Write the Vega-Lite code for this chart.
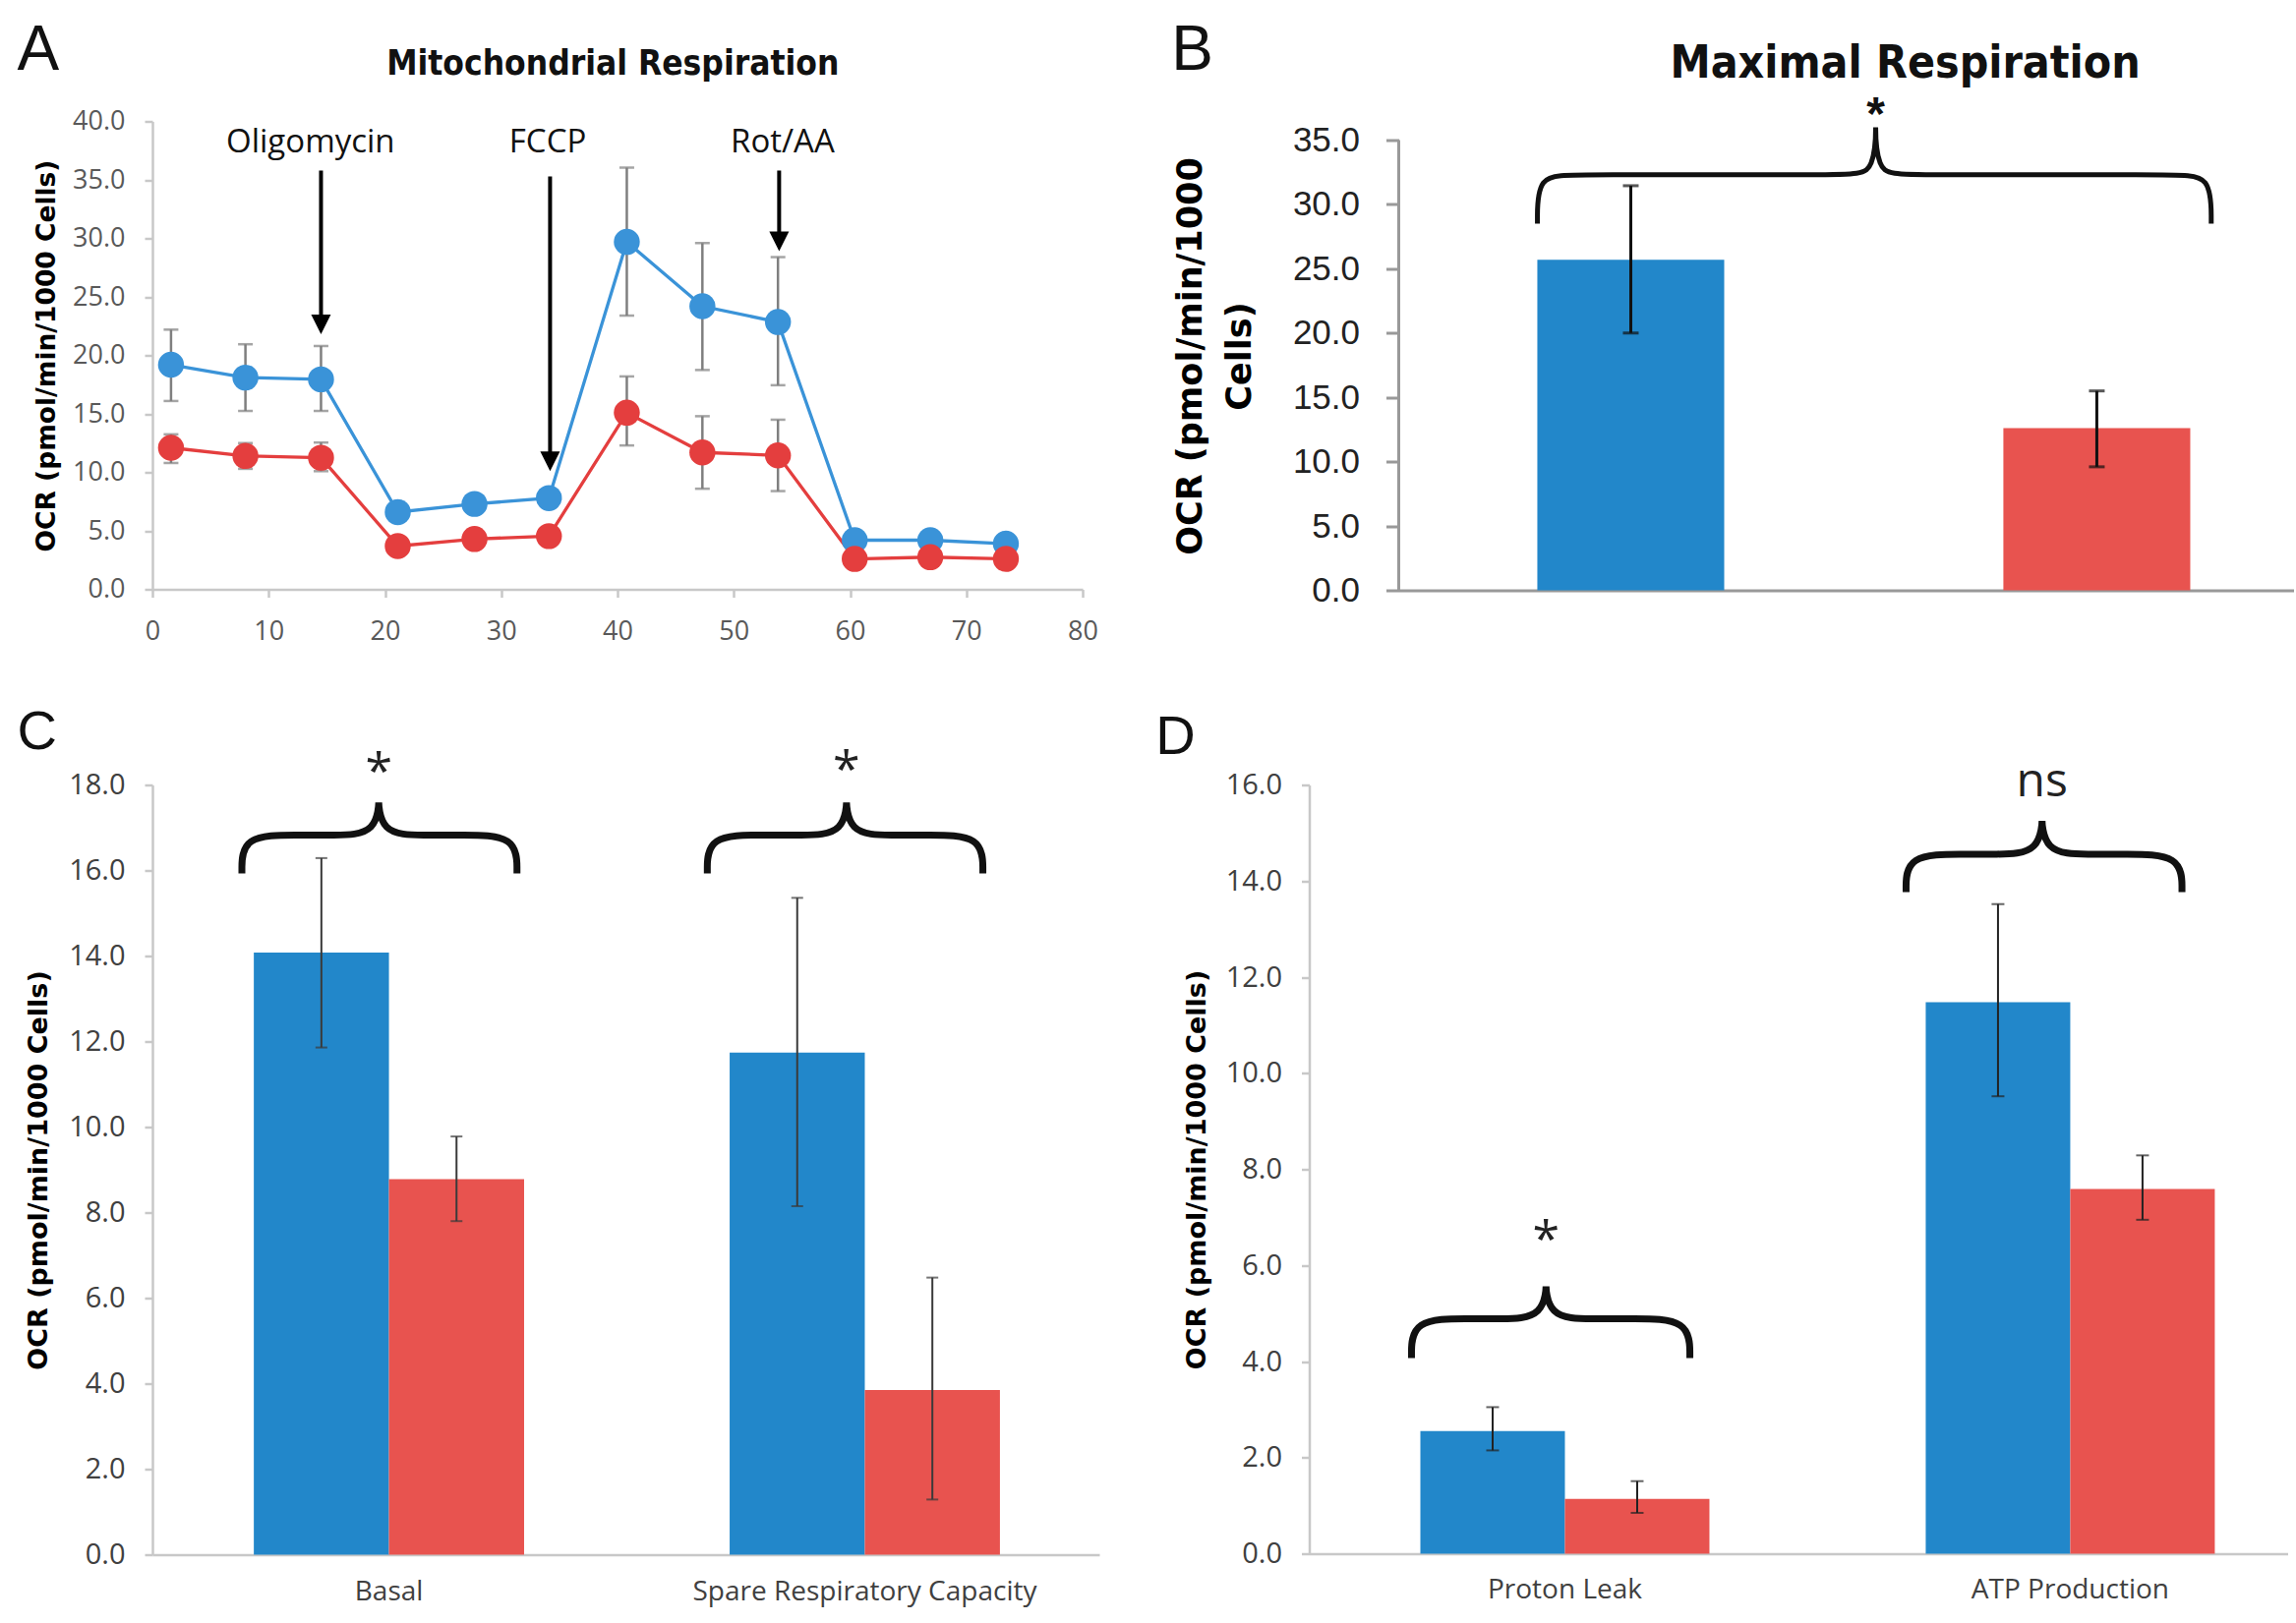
{
  "$schema": "https://vega.github.io/schema/vega-lite/v6.json",
  "background": "white",
  "padding": {"left": 17, "top": 19.5, "right": 0, "bottom": 10},
  "config": {
    "view": {"stroke": null},
    "axis": {"grid": false}
  },
  "datasets": {
    "a": [
      {"t": 1.6, "g": "g1", "v": 19.2, "lo": 16.1, "hi": 22.2},
      {"t": 8.0, "g": "g1", "v": 18.1, "lo": 15.25, "hi": 20.95},
      {"t": 14.5, "g": "g1", "v": 17.95, "lo": 15.25, "hi": 20.8},
      {"t": 21.1, "g": "g1", "v": 6.6, "lo": 6.0, "hi": 7.2},
      {"t": 27.7, "g": "g1", "v": 7.3, "lo": 6.7, "hi": 7.9},
      {"t": 34.1, "g": "g1", "v": 7.8, "lo": 7.2, "hi": 8.4},
      {"t": 40.8, "g": "g1", "v": 29.7, "lo": 23.4, "hi": 36.05},
      {"t": 47.3, "g": "g1", "v": 24.2, "lo": 18.75, "hi": 29.6},
      {"t": 53.8, "g": "g1", "v": 22.85, "lo": 17.45, "hi": 28.4},
      {"t": 60.4, "g": "g1", "v": 4.2, "lo": 3.8, "hi": 4.6},
      {"t": 66.9, "g": "g1", "v": 4.2, "lo": 3.8, "hi": 4.6},
      {"t": 73.4, "g": "g1", "v": 3.9, "lo": 3.5, "hi": 4.3},
      {"t": 1.6, "g": "g2", "v": 12.1, "lo": 10.8, "hi": 13.25},
      {"t": 8.0, "g": "g2", "v": 11.4, "lo": 10.3, "hi": 12.5},
      {"t": 14.5, "g": "g2", "v": 11.25, "lo": 10.1, "hi": 12.55},
      {"t": 21.1, "g": "g2", "v": 3.7, "lo": 3.3, "hi": 4.1},
      {"t": 27.7, "g": "g2", "v": 4.3, "lo": 3.9, "hi": 4.7},
      {"t": 34.1, "g": "g2", "v": 4.55, "lo": 4.15, "hi": 4.95},
      {"t": 40.8, "g": "g2", "v": 15.1, "lo": 12.3, "hi": 18.2},
      {"t": 47.3, "g": "g2", "v": 11.7, "lo": 8.6, "hi": 14.8},
      {"t": 53.8, "g": "g2", "v": 11.45, "lo": 8.4, "hi": 14.5},
      {"t": 60.4, "g": "g2", "v": 2.6, "lo": 2.3, "hi": 2.9},
      {"t": 66.9, "g": "g2", "v": 2.75, "lo": 2.45, "hi": 3.05},
      {"t": 73.4, "g": "g2", "v": 2.6, "lo": 2.3, "hi": 2.9}
    ],
    "arrows": [
      {"x": 14.5, "top": 35.8, "tip": 21.8, "label": "Oligomycin", "lx": 13.6, "ly": 38.2},
      {"x": 34.2, "top": 35.3, "tip": 10.1, "label": "FCCP", "lx": 34.0, "ly": 38.2},
      {"x": 53.9, "top": 35.8, "tip": 28.9, "label": "Rot/AA", "lx": 54.2, "ly": 38.2}
    ],
    "b": [
      {"g": "g1", "v": 25.7, "lo": 20.0, "hi": 31.45},
      {"g": "g2", "v": 12.6, "lo": 9.6, "hi": 15.5}
    ],
    "c": [
      {"cat": "Basal", "g": "g1", "v": 14.08, "lo": 11.86, "hi": 16.29},
      {"cat": "Basal", "g": "g2", "v": 8.78, "lo": 7.8, "hi": 9.78},
      {"cat": "Spare Respiratory Capacity", "g": "g1", "v": 11.74, "lo": 8.15, "hi": 15.36},
      {"cat": "Spare Respiratory Capacity", "g": "g2", "v": 3.85, "lo": 1.29, "hi": 6.48}
    ],
    "d": [
      {"cat": "Proton Leak", "g": "g1", "v": 2.55, "lo": 2.15, "hi": 3.05},
      {"cat": "Proton Leak", "g": "g2", "v": 1.14, "lo": 0.85, "hi": 1.51},
      {"cat": "ATP Production", "g": "g1", "v": 11.48, "lo": 9.52, "hi": 13.52},
      {"cat": "ATP Production", "g": "g2", "v": 7.59, "lo": 6.95, "hi": 8.29}
    ],
    "braceB": [
      {"id": 1, "i": 0, "bx": 15.5, "by": 28.5},
      {"id": 1, "i": 1, "bx": 15.5, "by": 32.3},
      {"id": 1, "i": 2, "bx": 19.5, "by": 32.3},
      {"id": 1, "i": 3, "bx": 50.3, "by": 32.3},
      {"id": 1, "i": 4, "bx": 53.3, "by": 32.3},
      {"id": 1, "i": 5, "bx": 53.3, "by": 37.85},
      {"id": 1, "i": 6, "bx": 53.3, "by": 32.3},
      {"id": 1, "i": 7, "bx": 56.3, "by": 32.3},
      {"id": 1, "i": 8, "bx": 86.8, "by": 32.3},
      {"id": 1, "i": 9, "bx": 90.8, "by": 32.3},
      {"id": 1, "i": 10, "bx": 90.8, "by": 28.5}
    ],
    "braceC": [
      {"id": 1, "i": 0, "bx": 9.45, "by": 15.93},
      {"id": 1, "i": 1, "bx": 9.45, "by": 16.83},
      {"id": 1, "i": 2, "bx": 15.45, "by": 16.83},
      {"id": 1, "i": 3, "bx": 18.9, "by": 16.83},
      {"id": 1, "i": 4, "bx": 23.9, "by": 16.83},
      {"id": 1, "i": 5, "bx": 23.9, "by": 17.97},
      {"id": 1, "i": 6, "bx": 23.9, "by": 16.83},
      {"id": 1, "i": 7, "bx": 28.9, "by": 16.83},
      {"id": 1, "i": 8, "bx": 32.5, "by": 16.83},
      {"id": 1, "i": 9, "bx": 38.5, "by": 16.83},
      {"id": 1, "i": 10, "bx": 38.5, "by": 15.93},
      {"id": 2, "i": 0, "bx": 58.6, "by": 15.93},
      {"id": 2, "i": 1, "bx": 58.6, "by": 16.83},
      {"id": 2, "i": 2, "bx": 64.6, "by": 16.83},
      {"id": 2, "i": 3, "bx": 68.3, "by": 16.83},
      {"id": 2, "i": 4, "bx": 73.3, "by": 16.83},
      {"id": 2, "i": 5, "bx": 73.3, "by": 17.97},
      {"id": 2, "i": 6, "bx": 73.3, "by": 16.83},
      {"id": 2, "i": 7, "bx": 78.3, "by": 16.83},
      {"id": 2, "i": 8, "bx": 81.7, "by": 16.83},
      {"id": 2, "i": 9, "bx": 87.7, "by": 16.83},
      {"id": 2, "i": 10, "bx": 87.7, "by": 15.93}
    ],
    "braceD": [
      {"id": 1, "i": 0, "bx": 10.45, "by": 4.07},
      {"id": 1, "i": 1, "bx": 10.45, "by": 4.89},
      {"id": 1, "i": 2, "bx": 16.45, "by": 4.89},
      {"id": 1, "i": 3, "bx": 19.2, "by": 4.89},
      {"id": 1, "i": 4, "bx": 24.2, "by": 4.89},
      {"id": 1, "i": 5, "bx": 24.2, "by": 5.9},
      {"id": 1, "i": 6, "bx": 24.2, "by": 4.89},
      {"id": 1, "i": 7, "bx": 29.2, "by": 4.89},
      {"id": 1, "i": 8, "bx": 32.9, "by": 4.89},
      {"id": 1, "i": 9, "bx": 38.9, "by": 4.89},
      {"id": 1, "i": 10, "bx": 38.9, "by": 4.07},
      {"id": 2, "i": 0, "bx": 61.0, "by": 13.77},
      {"id": 2, "i": 1, "bx": 61.0, "by": 14.56},
      {"id": 2, "i": 2, "bx": 67.0, "by": 14.56},
      {"id": 2, "i": 3, "bx": 69.9, "by": 14.56},
      {"id": 2, "i": 4, "bx": 74.9, "by": 14.56},
      {"id": 2, "i": 5, "bx": 74.9, "by": 15.6},
      {"id": 2, "i": 6, "bx": 74.9, "by": 14.56},
      {"id": 2, "i": 7, "bx": 79.9, "by": 14.56},
      {"id": 2, "i": 8, "bx": 83.2, "by": 14.56},
      {"id": 2, "i": 9, "bx": 89.2, "by": 14.56},
      {"id": 2, "i": 10, "bx": 89.2, "by": 13.77}
    ]
  },
  "spacing": 61,
  "resolve": {"scale": {"xOffset": "independent", "x": "independent", "y": "independent", "color": "independent"}},
  "vconcat": [
    {
      "spacing": 73.5,
      "resolve": {"scale": {"xOffset": "independent", "x": "independent", "y": "independent", "color": "independent"}},
      "hconcat": [
        {
          "width": 946,
          "height": 476,
          "layer": [
            {
              "data": {"name": "a"},
              "mark": {"type": "rule", "color": "#7f7f7f", "strokeWidth": 2.5},
              "encoding": {
                "x": {"field": "t", "type": "quantitative", "scale": {"domain": [0, 80], "nice": false},
                  "axis": {"values": [0, 10, 20, 30, 40, 50, 60, 70, 80], "title": null, "labelFont": "Open Sans", "labelFontSize": 27, "labelColor": "#595959", "tickSize": 8, "tickColor": "#c8c8c8", "tickWidth": 2.5, "domainColor": "#c8c8c8", "domainWidth": 2.5, "labelPadding": 22, "labelFlush": false}},
                "y": {"field": "lo", "type": "quantitative", "scale": {"domain": [0, 40], "nice": false},
                  "axis": {"values": [0, 5, 10, 15, 20, 25, 30, 35, 40], "format": ".1f", "title": "OCR (pmol/min/1000 Cells)", "titleFont": "DejaVu Sans", "titleFontWeight": "bold", "titleFontSize": 26.5, "titleColor": "#000", "titlePadding": 12, "labelFont": "Open Sans", "labelFontSize": 27, "labelColor": "#595959", "tickSize": 8, "tickColor": "#c8c8c8", "tickWidth": 2.5, "domainColor": "#c8c8c8", "domainWidth": 2.5, "labelPadding": 20}},
                "y2": {"field": "hi"}
              }
            },
            {
              "data": {"name": "a"},
              "mark": {"type": "tick", "orient": "horizontal", "color": "#7f7f7f", "thickness": 2.5, "size": 15},
              "encoding": {
                "x": {"field": "t", "type": "quantitative", "scale": {"domain": [0, 80], "nice": false}},
                "y": {"field": "hi", "type": "quantitative", "scale": {"domain": [0, 40], "nice": false}}
              }
            },
            {
              "data": {"name": "a"},
              "mark": {"type": "tick", "orient": "horizontal", "color": "#7f7f7f", "thickness": 2.5, "size": 15},
              "encoding": {
                "x": {"field": "t", "type": "quantitative", "scale": {"domain": [0, 80], "nice": false}},
                "y": {"field": "lo", "type": "quantitative", "scale": {"domain": [0, 40], "nice": false}}
              }
            },
            {
              "data": {"name": "a"},
              "mark": {"type": "line", "strokeWidth": 3.3},
              "encoding": {
                "x": {"field": "t", "type": "quantitative", "scale": {"domain": [0, 80], "nice": false}},
                "y": {"field": "v", "type": "quantitative", "scale": {"domain": [0, 40], "nice": false}},
                "color": {"field": "g", "type": "nominal", "scale": {"domain": ["g1", "g2"], "range": ["#3a93d8", "#e43e3e"]}, "legend": null}
              }
            },
            {
              "data": {"name": "a"},
              "mark": {"type": "circle", "size": 700, "opacity": 1},
              "encoding": {
                "x": {"field": "t", "type": "quantitative", "scale": {"domain": [0, 80], "nice": false}},
                "y": {"field": "v", "type": "quantitative", "scale": {"domain": [0, 40], "nice": false}},
                "color": {"field": "g", "type": "nominal", "scale": {"domain": ["g1", "g2"], "range": ["#3a93d8", "#e43e3e"]}, "legend": null}
              }
            },
            {
              "data": {"name": "arrows"},
              "mark": {"type": "rule", "color": "#000", "strokeWidth": 4, "y2Offset": -8},
              "encoding": {
                "x": {"field": "x", "type": "quantitative", "scale": {"domain": [0, 80], "nice": false}},
                "y": {"field": "top", "type": "quantitative", "scale": {"domain": [0, 40], "nice": false}},
                "y2": {"field": "tip"}
              }
            },
            {
              "data": {"name": "arrows"},
              "mark": {"type": "point", "shape": "M-1,-2L1,-2L0,0Z", "size": 400, "filled": true, "color": "#000", "opacity": 1, "strokeWidth": 0},
              "encoding": {
                "x": {"field": "x", "type": "quantitative", "scale": {"domain": [0, 80], "nice": false}},
                "y": {"field": "tip", "type": "quantitative", "scale": {"domain": [0, 40], "nice": false}}
              }
            },
            {
              "data": {"name": "arrows"},
              "mark": {"type": "text", "font": "Open Sans", "fontSize": 33, "color": "#111", "baseline": "middle", "align": "center"},
              "encoding": {
                "x": {"field": "lx", "type": "quantitative", "scale": {"domain": [0, 80], "nice": false}},
                "y": {"field": "ly", "type": "quantitative", "scale": {"domain": [0, 40], "nice": false}},
                "text": {"field": "label"}
              }
            },
            {
              "data": {"values": [{"x": 39.6, "y": 44.9, "txt": "Mitochondrial Respiration"}]},
              "mark": {"type": "text", "font": "'DejaVu Sans Condensed', 'Liberation Sans', sans-serif", "fontWeight": "bold", "fontSize": 35, "color": "#111", "baseline": "middle", "align": "center"},
              "encoding": {
                "x": {"field": "x", "type": "quantitative", "scale": {"domain": [0, 80], "nice": false}},
                "y": {"field": "y", "type": "quantitative", "scale": {"domain": [0, 40], "nice": false}},
                "text": {"field": "txt"}
              }
            },
            {
              "data": {"values": [{"x": -11.63, "y": 46.0, "txt": "A"}]},
              "mark": {"type": "text", "font": "Liberation Sans", "fontSize": 64, "color": "#111", "baseline": "middle", "align": "left"},
              "encoding": {
                "x": {"field": "x", "type": "quantitative", "scale": {"domain": [0, 80], "nice": false}},
                "y": {"field": "y", "type": "quantitative", "scale": {"domain": [0, 40], "nice": false}},
                "text": {"field": "txt"}
              }
            }
          ]
        },
        {
          "width": 910,
          "height": 477,
          "resolve": {"scale": {"x": "independent"}},
          "layer": [
            {
              "data": {"name": "b"},
              "layer": [
                {
                  "mark": {"type": "bar"},
                  "encoding": {
                    "x": {"field": "g", "type": "nominal", "sort": ["g1", "g2"], "scale": {"paddingInner": 0.599, "paddingOuter": 0.2595, "align": 0.573},
                      "axis": {"labels": false, "ticks": false, "title": null, "domainColor": "#999", "domainWidth": 3}},
                    "y": {"field": "v", "type": "quantitative", "scale": {"domain": [0, 36.45], "nice": false},
                      "axis": {"values": [0, 5, 10, 15, 20, 25, 30, 35], "format": ".1f", "domain": false, "title": ["OCR (pmol/min/1000", "Cells)"], "titleFont": "DejaVu Sans", "titleFontWeight": "bold", "titleFontSize": 35, "titleLineHeight": 50, "titleColor": "#000", "titlePadding": 36, "labelFont": "Liberation Sans", "labelFontSize": 35, "labelColor": "#222", "tickSize": 13, "tickColor": "#999", "tickWidth": 3, "labelPadding": 27}},
                    "color": {"field": "g", "type": "nominal", "scale": {"domain": ["g1", "g2"], "range": ["#2287ca", "#e8534f"]}, "legend": null}
                  }
                },
                {
                  "mark": {"type": "rule", "color": "#111", "strokeWidth": 3},
                  "encoding": {
                    "x": {"field": "g", "type": "nominal", "sort": ["g1", "g2"]},
                    "y": {"field": "lo", "type": "quantitative", "scale": {"domain": [0, 36.45], "nice": false}},
                    "y2": {"field": "hi"}
                  }
                },
                {
                  "mark": {"type": "tick", "orient": "horizontal", "color": "#111", "thickness": 3, "size": 16},
                  "encoding": {
                    "x": {"field": "g", "type": "nominal", "sort": ["g1", "g2"]},
                    "y": {"field": "lo", "type": "quantitative", "scale": {"domain": [0, 36.45], "nice": false}}
                  }
                },
                {
                  "mark": {"type": "tick", "orient": "horizontal", "color": "#111", "thickness": 3, "size": 16},
                  "encoding": {
                    "x": {"field": "g", "type": "nominal", "sort": ["g1", "g2"]},
                    "y": {"field": "hi", "type": "quantitative", "scale": {"domain": [0, 36.45], "nice": false}}
                  }
                }
              ]
            },
            {
              "layer": [
                {
                  "data": {"values": [{"x": 0, "y0": 0, "y1": 35}]},
                  "mark": {"type": "rule", "color": "#999", "strokeWidth": 3},
                  "encoding": {
                    "x": {"field": "x", "type": "quantitative", "scale": {"domain": [0, 100], "nice": false}, "axis": null},
                    "y": {"field": "y0", "type": "quantitative", "scale": {"domain": [0, 36.45], "nice": false}},
                    "y2": {"field": "y1"}
                  }
                },
                {
                  "data": {"name": "braceB"},
                  "mark": {"type": "line", "interpolate": "basis", "color": "#111", "strokeWidth": 5},
                  "encoding": {
                    "x": {"field": "bx", "type": "quantitative", "scale": {"domain": [0, 100], "nice": false}, "axis": null},
                    "y": {"field": "by", "type": "quantitative", "scale": {"domain": [0, 36.45], "nice": false}},
                    "detail": {"field": "id"},
                    "order": {"field": "i"}
                  }
                },
                {
                  "data": {"values": [{"x": 53.3, "y": 37.3, "txt": "*"}]},
                  "mark": {"type": "text", "font": "Liberation Sans", "fontWeight": "bold", "fontSize": 48, "color": "#111", "baseline": "middle", "align": "center", "dy": 6},
                  "encoding": {
                    "x": {"field": "x", "type": "quantitative", "scale": {"domain": [0, 100], "nice": false}},
                    "y": {"field": "y", "type": "quantitative", "scale": {"domain": [0, 36.45], "nice": false}},
                    "text": {"field": "txt"}
                  }
                },
                {
                  "data": {"values": [{"x": 56.6, "y": 40.9, "txt": "Maximal Respiration"}]},
                  "mark": {"type": "text", "font": "'DejaVu Sans Condensed', 'Liberation Sans', sans-serif", "fontWeight": "bold", "fontSize": 46, "color": "#111", "baseline": "middle", "align": "center"},
                  "encoding": {
                    "x": {"field": "x", "type": "quantitative", "scale": {"domain": [0, 100], "nice": false}},
                    "y": {"field": "y", "type": "quantitative", "scale": {"domain": [0, 36.45], "nice": false}},
                    "text": {"field": "txt"}
                  }
                },
                {
                  "data": {"values": [{"x": -25.4, "y": 41.9, "txt": "B"}]},
                  "mark": {"type": "text", "font": "Liberation Sans", "fontSize": 64, "color": "#111", "baseline": "middle", "align": "left"},
                  "encoding": {
                    "x": {"field": "x", "type": "quantitative", "scale": {"domain": [0, 100], "nice": false}},
                    "y": {"field": "y", "type": "quantitative", "scale": {"domain": [0, 36.45], "nice": false}},
                    "text": {"field": "txt"}
                  }
                }
              ]
            }
          ]
        }
      ]
    },
    {
      "spacing": 56.5,
      "resolve": {"scale": {"xOffset": "independent", "x": "independent", "y": "independent", "color": "independent"}},
      "hconcat": [
        {
          "width": 963,
          "height": 783,
          "resolve": {"scale": {"x": "independent"}},
          "layer": [
            {
              "data": {"name": "c"},
              "layer": [
                {
                  "mark": {"type": "bar"},
                  "encoding": {
                    "x": {"field": "cat", "type": "nominal", "sort": ["Basal", "Spare Respiratory Capacity"], "scale": {"paddingInner": 0.432, "paddingOuter": 0.211, "align": 0.505},
                      "axis": {"title": null, "labelAngle": 0, "ticks": false, "labelLimit": 1000, "labelFont": "Open Sans", "labelFontSize": 28, "labelColor": "#404040", "labelPadding": 24, "domainColor": "#c8c8c8", "domainWidth": 2.5}},
                    "xOffset": {"field": "g", "type": "nominal", "sort": ["g1", "g2"], "scale": {"paddingInner": 0, "paddingOuter": 0}},
                    "y": {"field": "v", "type": "quantitative", "scale": {"domain": [0, 18], "nice": false},
                      "axis": {"values": [0, 2, 4, 6, 8, 10, 12, 14, 16, 18], "format": ".1f", "title": "OCR (pmol/min/1000 Cells)", "titleFont": "DejaVu Sans", "titleFontWeight": "bold", "titleFontSize": 27, "titleColor": "#000", "titlePadding": 16, "labelFont": "Open Sans", "labelFontSize": 29, "labelColor": "#404040", "tickSize": 8, "tickColor": "#c8c8c8", "tickWidth": 2.5, "domainColor": "#c8c8c8", "domainWidth": 2.5, "labelPadding": 20}},
                    "color": {"field": "g", "type": "nominal", "scale": {"domain": ["g1", "g2"], "range": ["#2287ca", "#e8534f"]}, "legend": null}
                  }
                },
                {
                  "mark": {"type": "rule", "color": "#3a3a3a", "strokeWidth": 2},
                  "encoding": {
                    "x": {"field": "cat", "type": "nominal", "sort": ["Basal", "Spare Respiratory Capacity"]},
                    "xOffset": {"field": "g", "type": "nominal", "sort": ["g1", "g2"]},
                    "y": {"field": "lo", "type": "quantitative", "scale": {"domain": [0, 18], "nice": false}},
                    "y2": {"field": "hi"}
                  }
                },
                {
                  "mark": {"type": "tick", "orient": "horizontal", "color": "#3a3a3a", "thickness": 2, "size": 12},
                  "encoding": {
                    "x": {"field": "cat", "type": "nominal", "sort": ["Basal", "Spare Respiratory Capacity"]},
                    "xOffset": {"field": "g", "type": "nominal", "sort": ["g1", "g2"]},
                    "y": {"field": "lo", "type": "quantitative", "scale": {"domain": [0, 18], "nice": false}}
                  }
                },
                {
                  "mark": {"type": "tick", "orient": "horizontal", "color": "#3a3a3a", "thickness": 2, "size": 12},
                  "encoding": {
                    "x": {"field": "cat", "type": "nominal", "sort": ["Basal", "Spare Respiratory Capacity"]},
                    "xOffset": {"field": "g", "type": "nominal", "sort": ["g1", "g2"]},
                    "y": {"field": "hi", "type": "quantitative", "scale": {"domain": [0, 18], "nice": false}}
                  }
                }
              ]
            },
            {
              "layer": [
                {
                  "data": {"name": "braceC"},
                  "mark": {"type": "line", "interpolate": "basis", "color": "#111", "strokeWidth": 7},
                  "encoding": {
                    "x": {"field": "bx", "type": "quantitative", "scale": {"domain": [0, 100], "nice": false}, "axis": null},
                    "y": {"field": "by", "type": "quantitative", "scale": {"domain": [0, 18], "nice": false}},
                    "detail": {"field": "id"},
                    "order": {"field": "i"}
                  }
                },
                {
                  "data": {"values": [{"x": 23.9, "y": 18.5, "txt": "*"}, {"x": 73.3, "y": 18.55, "txt": "*"}]},
                  "mark": {"type": "text", "font": "Open Sans", "fontSize": 50, "color": "#222", "baseline": "middle", "align": "center", "dy": 10},
                  "encoding": {
                    "x": {"field": "x", "type": "quantitative", "scale": {"domain": [0, 100], "nice": false}},
                    "y": {"field": "y", "type": "quantitative", "scale": {"domain": [0, 18], "nice": false}},
                    "text": {"field": "txt"}
                  }
                },
                {
                  "data": {"values": [{"x": -14.28, "y": 19.24, "txt": "C"}]},
                  "mark": {"type": "text", "font": "Liberation Sans", "fontSize": 56, "color": "#111", "baseline": "middle", "align": "left"},
                  "encoding": {
                    "x": {"field": "x", "type": "quantitative", "scale": {"domain": [0, 100], "nice": false}},
                    "y": {"field": "y", "type": "quantitative", "scale": {"domain": [0, 18], "nice": false}},
                    "text": {"field": "txt"}
                  }
                }
              ]
            }
          ]
        },
        {
          "width": 995,
          "height": 782,
          "resolve": {"scale": {"x": "independent"}},
          "layer": [
            {
              "data": {"name": "d"},
              "layer": [
                {
                  "mark": {"type": "bar"},
                  "encoding": {
                    "x": {"field": "cat", "type": "nominal", "sort": ["Proton Leak", "ATP Production"], "scale": {"paddingInner": 0.428, "paddingOuter": 0.182, "align": 0.604},
                      "axis": {"title": null, "labelAngle": 0, "ticks": false, "labelLimit": 1000, "labelFont": "Open Sans", "labelFontSize": 28, "labelColor": "#404040", "labelPadding": 23, "domainColor": "#c8c8c8", "domainWidth": 2.5}},
                    "xOffset": {"field": "g", "type": "nominal", "sort": ["g1", "g2"], "scale": {"paddingInner": 0, "paddingOuter": 0}},
                    "y": {"field": "v", "type": "quantitative", "scale": {"domain": [0, 16], "nice": false},
                      "axis": {"values": [0, 2, 4, 6, 8, 10, 12, 14, 16], "format": ".1f", "title": "OCR (pmol/min/1000 Cells)", "titleFont": "DejaVu Sans", "titleFontWeight": "bold", "titleFontSize": 27, "titleColor": "#000", "titlePadding": 15, "labelFont": "Open Sans", "labelFontSize": 29, "labelColor": "#404040", "tickSize": 8, "tickColor": "#c8c8c8", "tickWidth": 2.5, "domainColor": "#c8c8c8", "domainWidth": 2.5, "labelPadding": 20}},
                    "color": {"field": "g", "type": "nominal", "scale": {"domain": ["g1", "g2"], "range": ["#2287ca", "#e8534f"]}, "legend": null}
                  }
                },
                {
                  "mark": {"type": "rule", "color": "#222", "strokeWidth": 2},
                  "encoding": {
                    "x": {"field": "cat", "type": "nominal", "sort": ["Proton Leak", "ATP Production"]},
                    "xOffset": {"field": "g", "type": "nominal", "sort": ["g1", "g2"]},
                    "y": {"field": "lo", "type": "quantitative", "scale": {"domain": [0, 16], "nice": false}},
                    "y2": {"field": "hi"}
                  }
                },
                {
                  "mark": {"type": "tick", "orient": "horizontal", "color": "#222", "thickness": 2, "size": 13},
                  "encoding": {
                    "x": {"field": "cat", "type": "nominal", "sort": ["Proton Leak", "ATP Production"]},
                    "xOffset": {"field": "g", "type": "nominal", "sort": ["g1", "g2"]},
                    "y": {"field": "lo", "type": "quantitative", "scale": {"domain": [0, 16], "nice": false}}
                  }
                },
                {
                  "mark": {"type": "tick", "orient": "horizontal", "color": "#222", "thickness": 2, "size": 13},
                  "encoding": {
                    "x": {"field": "cat", "type": "nominal", "sort": ["Proton Leak", "ATP Production"]},
                    "xOffset": {"field": "g", "type": "nominal", "sort": ["g1", "g2"]},
                    "y": {"field": "hi", "type": "quantitative", "scale": {"domain": [0, 16], "nice": false}}
                  }
                }
              ]
            },
            {
              "layer": [
                {
                  "data": {"name": "braceD"},
                  "mark": {"type": "line", "interpolate": "basis", "color": "#111", "strokeWidth": 7},
                  "encoding": {
                    "x": {"field": "bx", "type": "quantitative", "scale": {"domain": [0, 100], "nice": false}, "axis": null},
                    "y": {"field": "by", "type": "quantitative", "scale": {"domain": [0, 16], "nice": false}},
                    "detail": {"field": "id"},
                    "order": {"field": "i"}
                  }
                },
                {
                  "data": {"values": [{"x": 24.2, "y": 6.71, "txt": "*"}]},
                  "mark": {"type": "text", "font": "Open Sans", "fontSize": 50, "color": "#222", "baseline": "middle", "align": "center", "dy": 10},
                  "encoding": {
                    "x": {"field": "x", "type": "quantitative", "scale": {"domain": [0, 100], "nice": false}},
                    "y": {"field": "y", "type": "quantitative", "scale": {"domain": [0, 16], "nice": false}},
                    "text": {"field": "txt"}
                  }
                },
                {
                  "data": {"values": [{"x": 74.9, "y": 16.05, "txt": "ns"}]},
                  "mark": {"type": "text", "font": "Open Sans", "fontSize": 48, "color": "#222", "baseline": "middle", "align": "center"},
                  "encoding": {
                    "x": {"field": "x", "type": "quantitative", "scale": {"domain": [0, 100], "nice": false}},
                    "y": {"field": "y", "type": "quantitative", "scale": {"domain": [0, 16], "nice": false}},
                    "text": {"field": "txt"}
                  }
                },
                {
                  "data": {"values": [{"x": -15.7, "y": 17.0, "txt": "D"}]},
                  "mark": {"type": "text", "font": "Liberation Sans", "fontSize": 56, "color": "#111", "baseline": "middle", "align": "left"},
                  "encoding": {
                    "x": {"field": "x", "type": "quantitative", "scale": {"domain": [0, 100], "nice": false}},
                    "y": {"field": "y", "type": "quantitative", "scale": {"domain": [0, 16], "nice": false}},
                    "text": {"field": "txt"}
                  }
                }
              ]
            }
          ]
        }
      ]
    }
  ]
}
